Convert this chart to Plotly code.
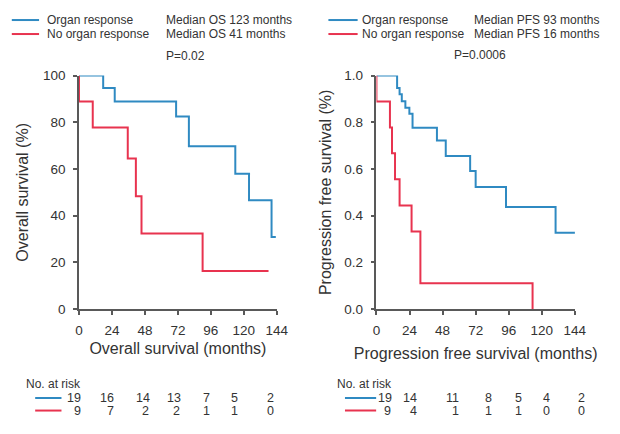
import plotly.graph_objects as go

# ---------------- data ----------------
os_organ_t = [0, 17.6, 26, 70.7, 80, 113.8, 123.8, 140.2, 143.3]
os_organ_s = [100, 94.7, 88.9, 82.5, 69.7, 58.0, 46.6, 30.9, 30.9]
os_none_t = [0, 0, 10, 35.5, 41.4, 45.5, 90, 138]
os_none_s = [100, 88.9, 77.8, 64.5, 48.3, 32.4, 16.3, 16.3]

pfs_organ_t = [0, 15, 16.8, 18.4, 21, 23.9, 26.2, 43.9, 50.3, 68, 72, 94, 130, 144.5]
pfs_organ_s = [1.0, 0.947, 0.92, 0.89, 0.862, 0.836, 0.777, 0.722, 0.656, 0.591, 0.523, 0.437, 0.327, 0.327]
pfs_none_t = [0, 0, 9.8, 11.3, 13.5, 16.8, 25.5, 31.9, 113.3, 113.3]
pfs_none_s = [1.0, 0.889, 0.778, 0.667, 0.556, 0.444, 0.333, 0.111, 0.111, 0.0]

x_ticks = [0, 24, 48, 72, 96, 120, 144]
os_yticks = [0, 20, 40, 60, 80, 100]
pfs_yticks = [0, 0.2, 0.4, 0.6, 0.8, 1.0]

os_risk_organ = [19, 16, 14, 13, 7, 5, 2]
os_risk_none = [9, 7, 2, 2, 1, 1, 0]
pfs_risk_organ = [19, 14, 11, 8, 5, 4, 2]
pfs_risk_none = [9, 4, 1, 1, 1, 0, 0]

groups = ["Organ response", "No organ response"]
os_medians = ["Median OS 123 months", "Median OS 41 months"]
pfs_medians = ["Median PFS 93 months", "Median PFS 16 months"]
os_p = "P=0.02"
pfs_p = "P=0.0006"

# ---------------- style / layout ----------------
W, H = 620, 434
BLUE = "#2f8ac2"
RED = "#e8334f"
TXT = "#333333"
AX = "#595959"
FONT = "Liberation Sans, Arial, sans-serif"

def px(x):
    return x / W

def py(y):
    return 1 - y / H

L_DOM = [px(77), px(280)]
R_DOM = [px(382.3), px(586)]
Y_DOM = [py(313), py(71)]

# column positions (pixels) of the at-risk numbers
os_risk_px = [72, 106, 142.7, 174, 208, 237, 274]
pfs_risk_px = [391, 417, 460, 497, 528, 557, 593]

fig = go.Figure()

def km(t, s, color, xa, ya):
    fig.add_trace(go.Scatter(x=t, y=s, mode="lines", line=dict(color=color, width=2, shape="hv"),
                             xaxis=xa, yaxis=ya, showlegend=False, cliponaxis=False, hoverinfo="skip"))

km(os_organ_t, os_organ_s, BLUE, "x", "y")
km(os_none_t, os_none_s, RED, "x", "y")
km(pfs_organ_t, pfs_organ_s, BLUE, "x2", "y2")
km(pfs_none_t, pfs_none_s, RED, "x2", "y2")

axis_common = dict(showline=True, linecolor=AX, linewidth=1.5, ticks="outside", ticklen=4,
                   tickcolor=AX, tickwidth=1.5, showgrid=False, zeroline=False,
                   tickfont=dict(family=FONT, size=13.5, color=TXT))
TF = dict(size=16, family=FONT, color=TXT)

fig.update_layout(
    width=W, height=H, margin=dict(l=0, r=0, t=0, b=0),
    paper_bgcolor="white", plot_bgcolor="white",
    font=dict(family=FONT, color=TXT),
    xaxis=dict(domain=L_DOM, range=[0, 144], tickvals=x_ticks, anchor="y", ticklabelstandoff=4,
               title=dict(text="Overall survival (months)", font=TF, standoff=6), **axis_common),
    yaxis=dict(domain=Y_DOM, range=[0, 100], tickvals=os_yticks, anchor="x", ticklabelstandoff=5,
               title=dict(text="Overall survival (%)", font=TF, standoff=10), **axis_common),
    xaxis2=dict(domain=R_DOM, range=[0, 144], tickvals=x_ticks, anchor="y2", ticklabelstandoff=4,
                title=dict(text="Progression free survival (months)", font=TF, standoff=11), **axis_common),
    yaxis2=dict(domain=Y_DOM, range=[0, 1], tickvals=pfs_yticks, tickformat=".1f", anchor="x2",
                ticklabelstandoff=5,
                title=dict(text="Progression free survival (%)", font=TF, standoff=9), **axis_common),
)

shapes = []
annots = []

def seg(x0, x1, y, color):
    shapes.append(dict(type="line", xref="paper", yref="paper", x0=px(x0), x1=px(x1), y0=py(y), y1=py(y),
                       line=dict(color=color, width=2)))

def text(x, y, s, anchor="left", size=12):
    annots.append(dict(xref="paper", yref="paper", x=px(x), y=py(y), text=s, showarrow=False,
                       xanchor=anchor, yanchor="middle", font=dict(family=FONT, size=size, color=TXT)))

# legends at top
seg(8, 36, 13.5, BLUE)
seg(8, 36, 28, RED)
text(42, 13.5, groups[0]); text(42, 28, groups[1])
text(164, 13.5, os_medians[0]); text(164, 28, os_medians[1])
text(164, 51, os_p)

seg(333, 363, 13.5, BLUE)
seg(333, 363, 28, RED)
text(365, 13.5, groups[0]); text(365, 28, groups[1])
text(480, 13.5, pfs_medians[0]); text(480, 28, pfs_medians[1])
text(489, 50, pfs_p, anchor="center")

# number at risk tables
text(21, 391, "No. at risk")
seg(32, 59, 405, BLUE)
seg(32, 59, 418, RED)
for xpx, a, b in zip(os_risk_px, os_risk_organ, os_risk_none):
    text(xpx, 405, str(a), anchor="center", size=12.5)
    text(xpx + (3 if a >= 10 and b < 10 else 0), 418, str(b), anchor="center", size=12.5)

text(340, 391, "No. at risk")
seg(350, 382, 405, BLUE)
seg(350, 382, 418, RED)
for xpx, a, b in zip(pfs_risk_px, pfs_risk_organ, pfs_risk_none):
    text(xpx, 405, str(a), anchor="center", size=12.5)
    text(xpx + (3 if a >= 10 and b < 10 else 0), 418, str(b), anchor="center", size=12.5)

fig.update_layout(shapes=shapes, annotations=annots)
fig.write_html("out.html", config={"displayModeBar": False},
               post_script="document.body.style.margin='0';document.body.style.overflow='hidden';")
